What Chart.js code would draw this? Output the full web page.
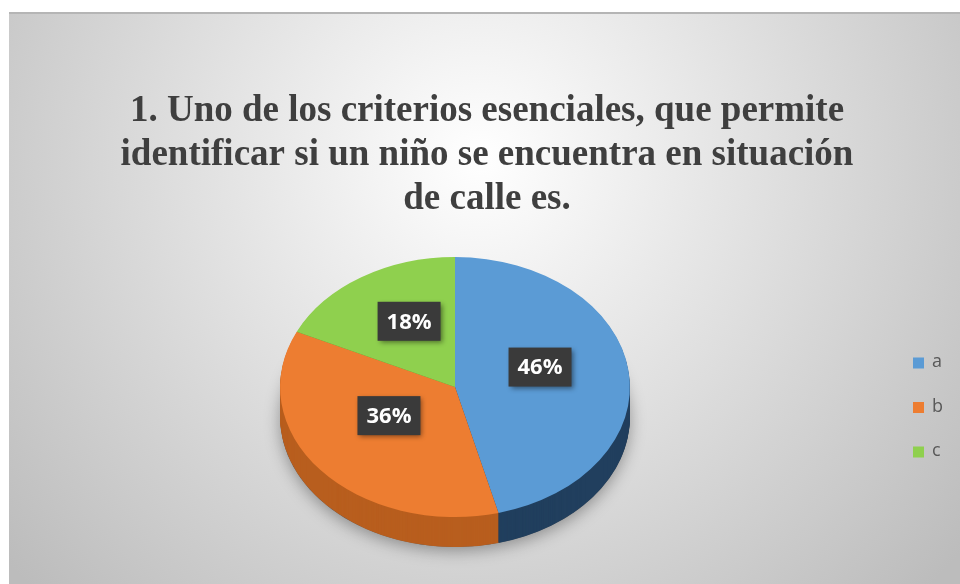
<!DOCTYPE html>
<html>
<head>
<meta charset="utf-8">
<script src="https://cdn.jsdelivr.net/npm/chart.js@4"></script>
<style>
  html, body { margin: 0; padding: 0; background: #fff; }
  #wrap { width: 960px; height: 584px; }
</style>
</head>
<body>
<div id="wrap"><canvas id="pie_chart"></canvas></div>
<script>
// data
const labels = ["a", "b", "c"];
const values = [46, 36, 18];
const pct_labels = ["46%", "36%", "18%"];
const title_lines = [
  "1. Uno de los criterios esenciales, que permite",
  "identificar si un niño se encuentra en situación",
  "de calle es."
];

const top_colors = ["#5B9BD5", "#ED7D31", "#8FD04E"];
const side_colors = ["#213F5E", "#B85E1E", "#5E8E2E"];
const stretch = 1.054;  // horizontal widening of the pie
const squash = 0.783;   // vertical flattening of the pie
const depth = 30;       // thickness of the 3d edge
const pie_dx = -32;     // pie sits left of the title centre, room for the legend

// legend box placement (right side, like the excel one)
const legend_x = 913, legend_y = 363, legend_gap = 44.5;

const tiltPlugin = {
  id: "tilt",
  beforeDraw(chart) {
    const ctx = chart.ctx, w = chart.width, h = chart.height;
    ctx.save();
    ctx.fillStyle = "#ffffff";
    ctx.fillRect(0, 0, w, h);
    var g = ctx.createRadialGradient(480, 160, 0, 480, 160, 620);
    g.addColorStop(0, "#ffffff");
    g.addColorStop(1, "#bcbcbc");
    ctx.fillStyle = g;
    ctx.fillRect(9, 12, w - 9, h - 12);
    ctx.fillStyle = "#b5b5b5";
    ctx.fillRect(9, 12, w - 9, 2);
    ctx.restore();
  },
  beforeDatasetsDraw(chart) {
    const ctx = chart.ctx;
    const arcs = chart.getDatasetMeta(0).data;
    const ax = arcs[0].x, cy = arcs[0].y, r = arcs[0].outerRadius;
    const cx = ax + pie_dx;

    // soft shadow under the pie
    ctx.save();
    ctx.translate(cx, cy + depth);
    ctx.scale(stretch, squash);
    ctx.shadowColor = "rgba(0,0,0,0.35)";
    ctx.shadowBlur = 16;
    ctx.shadowOffsetY = 4;
    ctx.beginPath();
    ctx.arc(0, 0, r, 0, Math.PI * 2);
    ctx.fillStyle = "#555";
    ctx.fill();
    ctx.restore();

    // the edge, stacked copies of each slice
    for (let d = depth; d >= 1; d--) {
      ctx.save();
      ctx.translate(cx, cy + d);
      ctx.scale(stretch, squash);
      arcs.forEach((arc, i) => {
        ctx.beginPath();
        ctx.moveTo(0, 0);
        ctx.arc(0, 0, arc.outerRadius, arc.startAngle, arc.endAngle);
        ctx.closePath();
        ctx.fillStyle = side_colors[i];
        ctx.fill();
      });
      ctx.restore();
    }

    // top face: let chart.js draw the arcs in a flattened space
    ctx.save();
    ctx.translate(cx, cy);
    ctx.scale(stretch, squash);
    ctx.translate(-ax, -cy);
  },
  afterDatasetsDraw(chart) {
    const ctx = chart.ctx;
    ctx.restore();

    const arcs = chart.getDatasetMeta(0).data;
    ctx.save();
    ctx.font = "bold 22px 'Open Sans', 'Noto Sans', sans-serif";
    ctx.textAlign = "center";
    ctx.textBaseline = "middle";
    arcs.forEach((arc, i) => {
      const mid = (arc.startAngle + arc.endAngle) / 2;
      const rr = arc.outerRadius * 0.49;
      const x = arc.x + pie_dx + Math.cos(mid) * rr * stretch;
      const y = arc.y + Math.sin(mid) * rr * squash - 12;
      const tw = ctx.measureText(pct_labels[i]).width;
      const bw = tw + 18, bh = 39;
      ctx.save();
      ctx.shadowColor = "rgba(0,0,0,0.45)";
      ctx.shadowBlur = 5;
      ctx.shadowOffsetX = 2;
      ctx.shadowOffsetY = 2;
      ctx.fillStyle = "#3a3a3a";
      ctx.fillRect(x - bw / 2, y - bh / 2, bw, bh);
      ctx.restore();
      ctx.fillStyle = "#ffffff";
      ctx.fillText(pct_labels[i], x, y + 1);
    });
    ctx.restore();

    // legend
    ctx.save();
    ctx.font = "18px 'Open Sans', 'Noto Sans', sans-serif";
    ctx.textAlign = "left";
    ctx.textBaseline = "middle";
    labels.forEach((lab, i) => {
      const y = legend_y + i * legend_gap;
      ctx.fillStyle = top_colors[i];
      ctx.fillRect(legend_x, y - 5.5, 11, 11);
      ctx.fillStyle = "#595959";
      ctx.fillText(lab, legend_x + 19, y - 1);
    });
    ctx.restore();
  }
};

const renderChart = () => {
  var ctx = document.getElementById("pie_chart").getContext("2d");
  var myChart = new Chart(ctx, {
    type: "pie",
    data: {
      labels: labels,
      datasets: [
        {
          data: values,
          backgroundColor: top_colors,
          borderWidth: 0,
          clip: false,
        },
      ],
    },
    options: {
      responsive: true,
      maintainAspectRatio: false,
      animation: false,
      events: [],
      layout: {
        padding: { left: 22, right: 8, top: 0, bottom: 31 },
      },
      plugins: {
        title: {
          display: true,
          text: title_lines,
          color: "#3f3f3f",
          font: { family: "'Liberation Serif', 'Times New Roman', serif", size: 37, weight: "bold", lineHeight: 1.19 },
          padding: { top: 89, bottom: 0 },
        },
        legend: { display: false },
        tooltip: { enabled: false },
      },
    },
    plugins: [tiltPlugin],
  });
};
renderChart();
</script>
</body>
</html>
